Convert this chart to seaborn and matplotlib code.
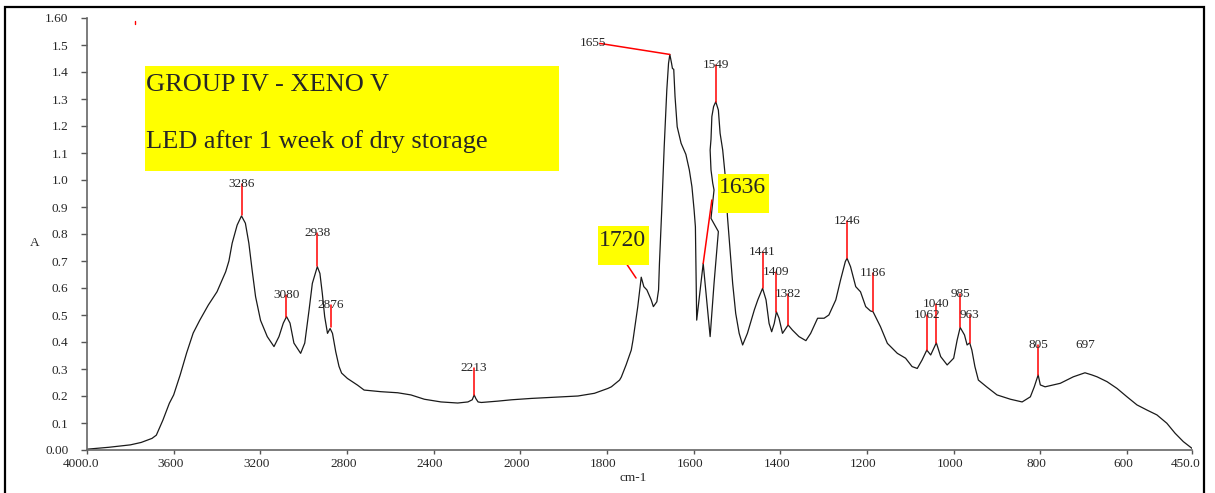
import numpy as np
import pandas as pd
import matplotlib
matplotlib.use("Agg")
import matplotlib.pyplot as plt
from matplotlib.patches import Rectangle
from matplotlib.transforms import ScaledTranslation
import seaborn as sns

# FTIR absorbance spectrum, listed in drawing order (wavenumber cm-1, absorbance)
wavenumber = [
    4000, 3900, 3800, 3750, 3700, 3680, 3650, 3620, 3600, 3570, 3540, 3510, 3480,
    3440, 3400, 3360, 3345, 3330, 3307, 3287, 3269, 3253, 3238, 3222, 3199, 3168,
    3137, 3114, 3094, 3079, 3063, 3045, 3014, 2995, 2975, 2960, 2937, 2925, 2914,
    2903, 2890, 2878, 2867, 2852, 2837, 2825, 2798, 2751, 2721, 2644, 2566, 2505,
    2443, 2366, 2289, 2242, 2222, 2213, 2205, 2195, 2180, 2104, 2040, 1975, 1906,
    1867, 1829, 1798, 1790, 1771, 1767, 1756, 1744, 1740, 1729, 1721, 1715, 1708,
    1698, 1693, 1685, 1681, 1679, 1674, 1668, 1662, 1658, 1655, 1651, 1649, 1646,
    1643, 1638, 1629, 1618, 1610, 1604, 1599, 1596, 1593, 1585, 1578, 1570, 1562,
    1553, 1543, 1560, 1553, 1556, 1560, 1562, 1560, 1558, 1554, 1549, 1543, 1539,
    1533, 1527, 1522, 1516, 1510, 1503, 1495, 1487, 1476, 1460, 1452, 1441, 1433,
    1426, 1420, 1414, 1409, 1403, 1395, 1382, 1372, 1357, 1341, 1330, 1314, 1299,
    1288, 1272, 1261, 1250, 1246, 1238, 1226, 1215, 1203, 1192, 1186, 1169, 1153,
    1130, 1111, 1096, 1084, 1073, 1062, 1053, 1040, 1030, 1015, 1000, 992, 985,
    975, 969, 963, 958, 951, 943, 924, 900, 869, 842, 823, 814, 805, 800, 789, 770,
    754, 739, 724, 708, 697, 681, 669, 646, 623, 600, 577, 554, 531, 508, 489, 470,
    450,
]
absorbance = [
    0.003, 0.010, 0.019, 0.028, 0.043, 0.055, 0.110, 0.173, 0.204, 0.278, 0.360, 0.433, 0.480,
    0.537, 0.586, 0.660, 0.700, 0.766, 0.833, 0.867, 0.840, 0.766, 0.667, 0.568, 0.480, 0.420,
    0.383, 0.420, 0.470, 0.494, 0.470, 0.396, 0.358, 0.396, 0.519, 0.617, 0.679, 0.654, 0.580,
    0.494, 0.432, 0.450, 0.432, 0.364, 0.310, 0.285, 0.265, 0.240, 0.222, 0.216, 0.212, 0.204,
    0.188, 0.178, 0.174, 0.178, 0.186, 0.204, 0.190, 0.178, 0.176, 0.181, 0.186, 0.191, 0.197,
    0.200, 0.210, 0.228, 0.234, 0.259, 0.270, 0.315, 0.370, 0.407, 0.531, 0.640, 0.605, 0.593,
    0.556, 0.531, 0.549, 0.593, 0.690, 0.877, 1.123, 1.333, 1.432, 1.465, 1.432, 1.413, 1.410,
    1.309, 1.197, 1.136, 1.095, 1.037, 0.975, 0.889, 0.827, 0.481, 0.593, 0.691, 0.556, 0.420,
    0.617, 0.809, 0.858, 0.963, 0.988, 1.037, 1.111, 1.151, 1.235, 1.272, 1.290, 1.259, 1.173,
    1.111, 1.012, 0.864, 0.741, 0.617, 0.506, 0.432, 0.389, 0.432, 0.519, 0.556, 0.599, 0.556,
    0.469, 0.438, 0.469, 0.512, 0.488, 0.432, 0.463, 0.444, 0.420, 0.405, 0.432, 0.488, 0.488,
    0.500, 0.556, 0.630, 0.698, 0.710, 0.679, 0.605, 0.586, 0.531, 0.515, 0.512, 0.457, 0.395,
    0.358, 0.340, 0.309, 0.302, 0.333, 0.370, 0.352, 0.397, 0.346, 0.315, 0.340, 0.407, 0.454,
    0.426, 0.389, 0.397, 0.370, 0.309, 0.259, 0.234, 0.204, 0.188, 0.178, 0.197, 0.234, 0.278, 0.241, 0.234, 0.241,
    0.247, 0.259, 0.271, 0.280, 0.286, 0.278, 0.271, 0.253, 0.228, 0.197, 0.167, 0.148, 0.130, 0.099, 0.062, 0.031,
    0.006,
]

# Peak annotations: wavenumber, absorbance at the peak, height of the label
peak_labels = ["3286", "3080", "2938", "2876", "2213", "1549", "1441", "1409",
               "1382", "1246", "1186", "1062", "1040", "985", "963", "805"]
peak_abs = [0.870, 0.494, 0.680, 0.455, 0.204, 1.290, 0.599, 0.512,
            0.463, 0.710, 0.515, 0.370, 0.397, 0.454, 0.397, 0.278]
label_abs = [0.985, 0.574, 0.805, 0.537, 0.302, 1.426, 0.734, 0.660,
             0.577, 0.849, 0.654, 0.500, 0.541, 0.578, 0.500, 0.389]

x_ticks = [4000, 3600, 3200, 2800, 2400, 2000, 1800, 1600, 1400, 1200, 1000, 800, 600, 450]
x_tick_labels = ["4000.0", "3600", "3200", "2800", "2400", "2000", "1800", "1600",
                 "1400", "1200", "1000", "800", "600", "450.0"]
y_ticks = [round(0.1 * i, 1) for i in range(17)]
y_tick_labels = ["0.00"] + [f"{v:.1f}" for v in y_ticks[1:-1]] + ["1.60"]

title_lines = ["GROUP IV - XENO V", "LED after 1 week of dry storage"]

sns.set_style("ticks")
plt.rcParams["font.family"] = ["Liberation Serif", "DejaVu Serif"]

W, H = 1215, 493
fig = plt.figure(figsize=(W / 100, H / 100), dpi=100)


def fx(px):
    return px / W


def fy(py):
    return 1 - py / H


ax = fig.add_axes([fx(87), fy(450), fx(1192 - 87), (450 - 18) / H])


# wavenumber axis: the region above 2000 cm-1 is compressed by a factor of two
def fwd(x):
    x = np.asarray(x, dtype=float)
    return np.where(x <= 2000, x, 2000 + (x - 2000) / 2)


def inv(x):
    x = np.asarray(x, dtype=float)
    return np.where(x <= 2000, x, 2000 + (x - 2000) * 2)


ax.set_xscale("function", functions=(fwd, inv))

spectrum = pd.DataFrame({"wavenumber": wavenumber, "A": absorbance})
sns.lineplot(data=spectrum, x="wavenumber", y="A", sort=False, estimator=None,
             color="#1a1a1a", linewidth=0.9, ax=ax)

# peak markers
for lab, pa, la in zip(peak_labels, peak_abs, label_abs):
    wn = float(lab)
    ax.plot([wn, wn], [pa, la], color="red", linewidth=1.1, zorder=3)
    ax.text(wn, la, lab, ha="center", va="center", fontsize=9.5, zorder=4)
ax.text(697, 0.389, "697", ha="center", va="center", fontsize=9.5)

# leader for the amide I maximum
ax.plot([1817, 1655], [1.506, 1.465], color="red", linewidth=1.1)
ax.text(1833, 1.506, "1655", ha="center", va="center", fontsize=9.5)

# highlighted bands
ax.plot([1784, 1733], [0.759, 0.637], color="red", linewidth=1.1)
ax.plot([1578, 1558], [0.691, 0.926], color="red", linewidth=1.1)
ax.plot([3778, 3778], [1.577, 1.590], color="red", linewidth=1.0)

ax.set_xlim(4000, 450)
ax.set_ylim(0, 1.6)
ax.set_xticks(x_ticks)
ax.set_xticklabels(x_tick_labels)
ax.set_yticks(y_ticks)
ax.set_yticklabels(y_tick_labels)
ax.minorticks_off()
ax.set_xlabel("")
ax.set_ylabel("")
ax.tick_params(axis="x", length=2.7, width=1.0, pad=3.2, labelsize=9.5, color="#555555")
ax.tick_params(axis="y", length=4.0, width=1.0, pad=9.5, labelsize=9.5, color="#555555")
for side in ("top", "right"):
    ax.spines[side].set_visible(False)
for side in ("left", "bottom"):
    ax.spines[side].set_color("#666666")
    ax.spines[side].set_linewidth(1.2)

# x tick labels sit slightly left of their ticks
for lbl in ax.get_xticklabels():
    shift = -6 if "." in lbl.get_text() else -3.5
    lbl.set_transform(lbl.get_transform() + ScaledTranslation(shift / 100, 0, fig.dpi_scale_trans))

fig.text(fx(35), fy(243), "A", ha="center", va="center", fontsize=9.5)
fig.text(fx(633), fy(478), "cm-1", ha="center", va="center", fontsize=9.5)

# title block
fig.patches.append(Rectangle((fx(145), fy(171)), fx(559 - 145), (171 - 66) / H,
                             transform=fig.transFigure, facecolor="#ffff00",
                             edgecolor="none", zorder=5))
fig.text(fx(146), fy(90.7), title_lines[0], ha="left", va="baseline", fontsize=19, zorder=6)
fig.text(fx(146), fy(148.3), title_lines[1], ha="left", va="baseline", fontsize=19, zorder=6)

# yellow band labels
fig.patches.append(Rectangle((fx(598), fy(265)), fx(649 - 598), (265 - 226) / H,
                             transform=fig.transFigure, facecolor="#ffff00",
                             edgecolor="none", zorder=5))
fig.text(fx(622), fy(240), "1720", ha="center", va="center", fontsize=17, zorder=6)
fig.patches.append(Rectangle((fx(718), fy(213)), fx(769 - 718), (213 - 174) / H,
                             transform=fig.transFigure, facecolor="#ffff00",
                             edgecolor="none", zorder=5))
fig.text(fx(742), fy(188), "1636", ha="center", va="center", fontsize=17, zorder=6)

# outer frame
fig.patches.append(Rectangle((fx(5), -0.05), fx(1204 - 5), fy(7) + 0.05,
                             transform=fig.transFigure, facecolor="none",
                             edgecolor="black", linewidth=1.6, zorder=10))

fig.savefig("out.png", dpi=100)
